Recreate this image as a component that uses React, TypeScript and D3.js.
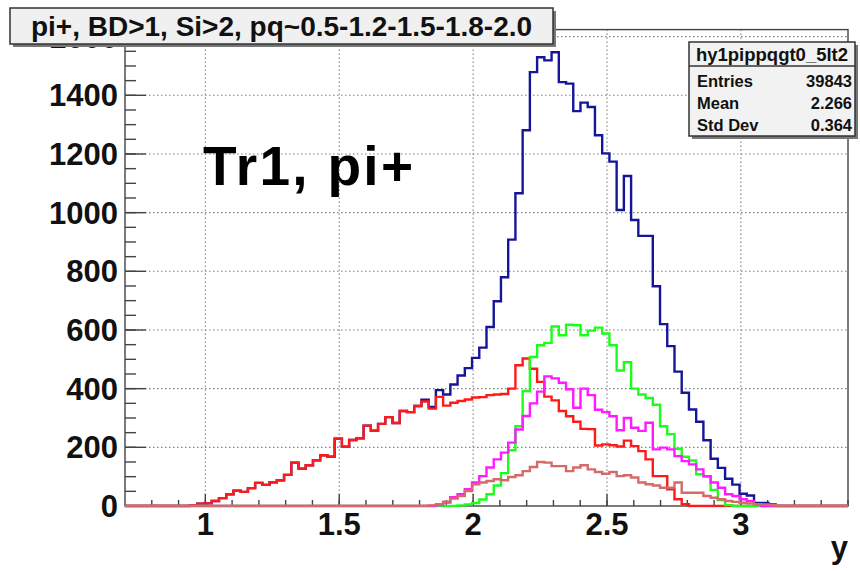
import React from "react";
import * as d3 from "d3";

// ---- histogram binning / axis ranges ----
const X_MIN = 0.7;
const X_MAX = 3.4;
const N_BINS = 100;
const Y_MAX = 1624;

const xTickValues = [1, 1.5, 2, 2.5, 3];
const xTickLabels = ["1", "1.5", "2", "2.5", "3"];
const yTickValues = [0, 200, 400, 600, 800, 1000, 1200, 1400, 1600];
const yTickLabels = ["0", "200", "400", "600", "800", "1000", "1200", "1400", "1600"];

// ---- series (bin contents, 100 bins) ----
const totalCounts = [
  0, 0, 0, 0, 0, 0, 0, 0, 0, 3,
  8, 9, 17, 27, 40, 52, 48, 61, 79, 72,
  81, 88, 106, 148, 127, 139, 156, 173, 168, 229,
  202, 225, 231, 274, 257, 280, 303, 283, 324, 320,
  341, 362, 338, 395, 380, 414, 445, 470, 505, 540,
  610, 698, 780, 908, 1066, 1281, 1479, 1530, 1519, 1547,
  1445, 1440, 1346, 1375, 1360, 1264, 1202, 1174, 1009, 1125,
  975, 921, 921, 749, 620, 545, 458, 386, 329, 287,
  224, 161, 130, 93, 73, 42, 36, 10, 10, 5,
  0, 0, 0, 0, 0, 0, 0, 0, 0, 0,
];

const redCounts = [
  0, 0, 0, 0, 0, 0, 0, 0, 0, 3,
  8, 9, 17, 27, 40, 52, 48, 61, 79, 72,
  81, 88, 106, 148, 127, 139, 156, 173, 168, 229,
  202, 225, 231, 274, 257, 280, 303, 283, 324, 320,
  341, 356, 332, 372, 342, 352, 358, 363, 370, 371,
  378, 380, 382, 400, 480, 503, 468, 423, 373, 360,
  324, 306, 287, 263, 262, 206, 210, 207, 203, 223,
  204, 187, 159, 102, 102, 57, 23, 6, 0, 0,
  0, 0, 0, 0, 0, 0, 0, 0, 0, 0,
  0, 0, 0, 0, 0, 0, 0, 0, 0, 0,
];

const greenCounts = [
  0, 0, 0, 0, 0, 0, 0, 0, 0, 0,
  0, 0, 0, 0, 0, 0, 0, 0, 0, 0,
  0, 0, 0, 0, 0, 0, 0, 0, 0, 0,
  0, 0, 0, 0, 0, 0, 0, 0, 0, 0,
  0, 0, 0, 0, 0, 0, 2, 5, 10, 22,
  40, 70, 112, 190, 272, 392, 508, 548, 556, 612,
  582, 618, 616, 582, 598, 608, 588, 548, 462, 490,
  400, 380, 368, 345, 272, 245, 195, 168, 155, 108,
  100, 55, 20, 3, 0, 0, 0, 0, 0, 0,
  0, 0, 0, 0, 0, 0, 0, 0, 0, 0,
];

const magentaCounts = [
  0, 0, 0, 0, 0, 0, 0, 0, 0, 0,
  0, 0, 0, 0, 0, 0, 0, 0, 0, 0,
  0, 0, 0, 0, 0, 0, 0, 0, 0, 0,
  0, 0, 0, 0, 0, 0, 0, 0, 0, 0,
  0, 0, 0, 3, 12, 30, 40, 57, 80, 102,
  131, 159, 182, 216, 261, 307, 350, 390, 442, 435,
  420, 398, 335, 400, 378, 328, 320, 306, 258, 300,
  267, 256, 284, 193, 199, 193, 170, 153, 142, 125,
  102, 80, 62, 40, 34, 23, 17, 6, 0, 0,
  0, 0, 0, 0, 0, 0, 0, 0, 0, 0,
];

const salmonCounts = [
  0, 0, 0, 0, 0, 0, 0, 0, 0, 0,
  0, 0, 0, 0, 0, 0, 0, 0, 0, 0,
  0, 0, 0, 0, 0, 0, 0, 0, 0, 0,
  0, 0, 0, 0, 0, 0, 0, 0, 0, 0,
  0, 0, 2, 6, 15, 25, 34, 51, 74, 80,
  85, 91, 88, 99, 105, 119, 133, 150, 148, 136,
  136, 119, 131, 139, 125, 116, 110, 116, 102, 105,
  97, 80, 74, 70, 62, 62, 80, 45, 45, 45,
  34, 28, 23, 17, 14, 11, 9, 6, 5, 3,
  0, 0, 0, 0, 0, 0, 0, 0, 0, 0,
];

const statsTitle = "hy1pippqgt0_5lt2";
const statsLabels = ["Entries", "Mean", "Std Dev"];
const statsValues = ["39843", "2.266", "0.364"];
const chartTitle = "pi+, BD>1, Si>2, pq~0.5-1.2-1.5-1.8-2.0";
const annotation = "Tr1, pi+";
const xAxisTitle = "y";

const series = [
  { name: "total", values: totalCounts, color: "#15159a" },
  { name: "red", values: redCounts, color: "#ff1a1a" },
  { name: "green", values: greenCounts, color: "#1aff1a" },
  { name: "magenta", values: magentaCounts, color: "#ff1aff" },
  { name: "salmon", values: salmonCounts, color: "#d46a6a" },
];

const W = 860;
const H = 571;
const FL = 125;
const FR = 848;
const FB = 506;
const FT = 29.6;
const FONT = "'Liberation Sans', Arial, Helvetica, sans-serif";

export default function App() {
  const x = d3.scaleLinear().domain([X_MIN, X_MAX]).range([FL, FR]);
  const y = d3.scaleLinear().domain([0, Y_MAX]).range([FB, FT]);
  const edges = d3.range(N_BINS + 1).map((i) => X_MIN + (i * (X_MAX - X_MIN)) / N_BINS);

  const line = d3
    .line<[number, number]>()
    .x((d) => x(d[0]))
    .y((d) => y(d[1]));

  const stepPath = (vals: number[]) => {
    const pts: [number, number][] = [];
    vals.forEach((v, i) => {
      pts.push([edges[i], v]);
      pts.push([edges[i + 1], v]);
    });
    return line(pts) || "";
  };

  const xMinor = d3.range(8, 35).map((i) => i / 10).filter((v) => v >= X_MIN - 1e-9 && v <= X_MAX + 1e-9);
  const yMinor = d3.range(0, 33).map((i) => i * 50).filter((v) => v <= Y_MAX);

  const gridColor = "#808080";
  const axisColor = "#444";

  return (
    <svg
      width={W}
      height={H}
      viewBox={`0 0 ${W} ${H}`}
      style={{ position: "absolute", left: 0, top: 0, background: "#fff" }}
      fontFamily={FONT}
    >
      <defs>
        <clipPath id="frameClip">
          <rect x={FL} y={FT} width={FR - FL} height={FB - FT + 1.5} />
        </clipPath>
      </defs>
      <rect x={0} y={0} width={W} height={H} fill="#fff" />

      {/* grid */}
      <g stroke={gridColor} strokeWidth={1.1} strokeDasharray="1.5,2.5">
        {xTickValues.map((v) => (
          <line key={"gx" + v} x1={x(v)} x2={x(v)} y1={FT} y2={FB} />
        ))}
        {yTickValues
          .filter((v) => v > 0)
          .map((v) => (
            <line key={"gy" + v} x1={FL} x2={FR} y1={y(v)} y2={y(v)} />
          ))}
      </g>

      {/* frame */}
      <rect x={FL} y={FT} width={FR - FL} height={FB - FT} fill="none" stroke={axisColor} strokeWidth={1.4} />

      {/* ticks */}
      <g stroke={axisColor} strokeWidth={1.4}>
        {xMinor.map((v) => (
          <line key={"xm" + v} x1={x(v)} x2={x(v)} y1={FB} y2={FB - 6} />
        ))}
        {xTickValues.map((v) => (
          <line key={"xM" + v} x1={x(v)} x2={x(v)} y1={FB} y2={FB - 12} />
        ))}
        {yMinor.map((v) => (
          <line key={"ym" + v} x1={FL} x2={FL + 11} y1={y(v)} y2={y(v)} />
        ))}
        {yTickValues.map((v) => (
          <line key={"yM" + v} x1={FL} x2={FL + 21} y1={y(v)} y2={y(v)} />
        ))}
      </g>

      {/* histograms */}
      <g clipPath="url(#frameClip)" fill="none" strokeWidth={2.4} strokeLinejoin="miter">
        {series.map((s) => (
          <path key={s.name} d={stepPath(s.values)} stroke={s.color} />
        ))}
      </g>

      {/* tick labels */}
      <g fontWeight="bold" fontSize={31} fill="#111">
        {yTickValues.map((v, i) => (
          <text key={"yl" + v} x={118} y={y(v) + 11} textAnchor="end">
            {yTickLabels[i]}
          </text>
        ))}
        {xTickValues.map((v, i) => (
          <text key={"xl" + v} x={x(v)} y={535} textAnchor="middle">
            {xTickLabels[i]}
          </text>
        ))}
        <text x={FR} y={558} textAnchor="end">
          {xAxisTitle}
        </text>
      </g>

      {/* annotation */}
      <text x={203} y={185} fontSize={55} fontWeight="bold" fill="#000" textLength={210} lengthAdjust="spacing">
        {annotation}
      </text>

      {/* title box */}
      <rect x={13} y={11} width={543} height={36} fill="#777" />
      <rect x={10} y={8} width={543} height={36} fill="#f0f0f0" stroke="#333" strokeWidth={1.5} />
      <text x={281.5} y={36} fontSize={28} fontWeight="bold" textAnchor="middle" fill="#111">
        {chartTitle}
      </text>

      {/* stats box */}
      <rect x={692} y={45} width={166} height={94} fill="#777" />
      <rect x={689} y={42} width={166} height={94} fill="#f2f2f2" stroke="#333" strokeWidth={1.5} />
      <line x1={689} x2={855} y1={66} y2={66} stroke="#333" strokeWidth={1.5} />
      <text x={772} y={61} fontSize={18.5} fontWeight="bold" textAnchor="middle" fill="#111">
        {statsTitle}
      </text>
      <g fontSize={16.5} fontWeight="bold" fill="#111">
        {statsLabels.map((l, i) => (
          <text key={l} x={697} y={87 + i * 22}>
            {l}
          </text>
        ))}
        {statsValues.map((v, i) => (
          <text key={"sv" + i} x={852} y={87 + i * 22} textAnchor="end">
            {v}
          </text>
        ))}
      </g>
    </svg>
  );
}
